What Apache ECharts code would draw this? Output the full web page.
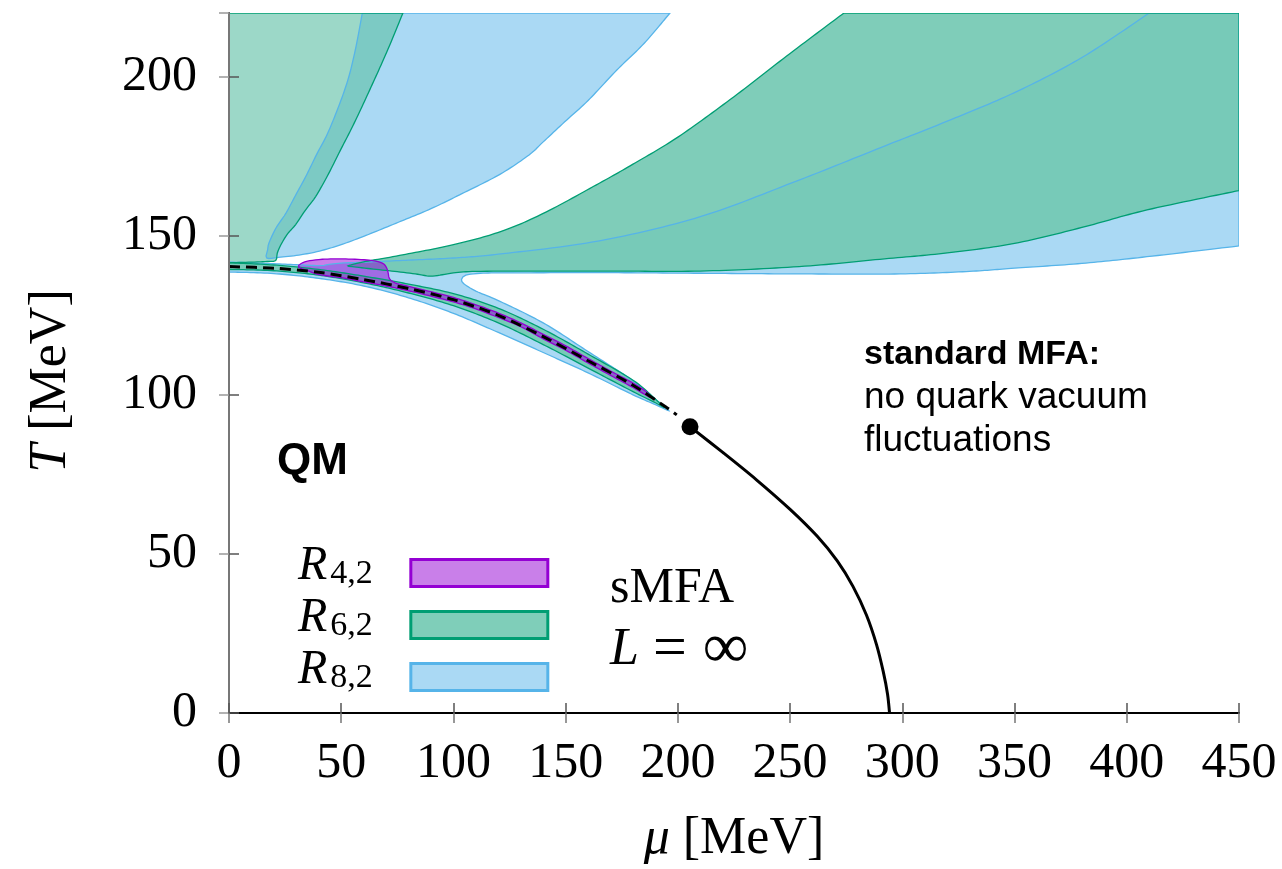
<!DOCTYPE html>
<html>
<head>
<meta charset="utf-8">
<script src="https://cdn.jsdelivr.net/npm/echarts@6/dist/echarts.min.js"></script>
<style>
  html, body { margin: 0; padding: 0; background: #fff; }
  #chart { width: 1282px; height: 869px; }
</style>
</head>
<body>
<div id="chart"></div>
<script>
// Axis ranges (MeV)
const muRange = [0, 450];
const tRange = [0, 220];
const muTickStep = 50;
const tTickStep = 50;

// Crossover line (dashed), mu and T in MeV
const crossoverMu = [0, 20, 40, 60, 80, 100, 120, 140, 160, 180, 195, 199.5];
const crossoverT  = [140.3, 139.8, 138.5, 136.2, 133.4, 129.9, 125.0, 118.3, 110.7, 103.0, 96.0, 93.7];

// First-order transition line (solid) from the critical endpoint down to T = 0
const firstOrderMu = [205.4, 220, 235, 250, 262, 271, 278, 284, 288.5, 291.5, 293.4, 294.3];
const firstOrderT  = [90.0, 81.9, 73.3, 64.0, 55.6, 47.8, 39.8, 30.8, 21.5, 13.0, 6.0, 0];

// Critical endpoint
const cepMu = 205.4;
const cepT = 90.0;

// Region where R_{4,2} is negative: outline points [mu, T]
const r42Blob = [
  [31,140.2],[35,139.0],[40,137.8],[50,136.8],[60,135.5],[70,134.2],[80,132.7],[90,131.0],
  [100,129.2],[110,127.0],[120,124.3],[130,121.4],[140,117.6],[150,114.0],[160,110.0],
  [170,106.1],[180,102.3],[186,99.8],[188,99.2],
  [186,100.9],[180,103.7],[170,107.5],[160,111.4],[150,115.4],[140,119.0],[130,122.6],
  [120,125.7],[110,128.3],[100,130.6],[90,132.4],[80,134.1],[74,135.2],[71.5,136.5],
  [71,138.0],[70.3,139.8],[68.3,141.4],[62.4,142.3],[52,142.7],[41.6,142.6],[35,142.0],[32,141.2]
];

// Regions where R_{6,2} is negative
const r62UpperLeft = [
  [0,141.5],[10,141.7],[17,141.9],[20.8,142.2],[21.5,144.5],[23,147],[26,150.5],[29.7,153.5],
  [34,158],[38.6,162.3],[44,169],[49,176],[56.4,186.3],[65.4,200],[71.3,209.4],[77.5,220],[0,220]
];
const r62CrossoverBand = [
  [0,139.4],[20,139.0],[40,137.6],[60,135.2],[80,132.0],[100,128.0],[120,122.6],[140,115.8],
  [160,108.4],[180,101.0],[190,97.5],[194,96.0],
  [190,98.6],[180,104.6],[160,112.8],[140,120.6],[120,127.2],[100,131.8],[80,134.8],
  [60,137.3],[40,139.4],[20,140.8],[0,141.5]
];
const r62RightBand = [
  [53,140.5],[60,141.8],[76,143.8],[100,147.2],[121,151.3],[140,157],[165,166.5],[180,172.5],
  [200,181],[225,193.7],[250,207.3],[274,220],[450,220],[450,164.2],
  [409,158.1],[380,152.6],[350,147.6],[320,144.6],[290,142.6],[254,140.3],[210,138.9],
  [165,138.9],[110,138.8],[100,138.3],[93,137.5],[89,137.3],[85,137.8],[75,138.7],[62,139.7],[55,140.3]
];

// Regions where R_{8,2} is negative
const r82UpperLeft = [
  [16.8,143.0],[17.2,145.5],[17.8,147.7],[21,152.5],[25.3,157],[29.5,162.5],[34.2,168.6],
  [39,175.5],[44.6,183.2],[52,196.8],[56,207.5],[59.4,220],[196.5,220],[185,210.5],
  [172.7,202],[160,192.5],[150.5,186.4],[140,179.5],[133.7,175.4],[120.7,169.3],[104,163.3],
  [90,158.5],[74.3,153.9],[60,149.8],[50,147.2],[44.6,146],[38,144.8],[30,143.8],[22,143.2]
];
const r82BandAndStrip = [
  [0,138.6],[20,138.1],[40,136.6],[60,134.2],[80,130.5],[100,125.6],[120,119.6],[140,113.3],
  [160,106.9],[180,100.0],[190,96.9],[196,95.0],
  [192,97.4],[180,104.4],[160,113.6],[140,122.6],[120,129.6],[110,132.6],[104.5,135.0],
  [103.6,136.3],[105.5,137.6],[112,138.2],[120,138.3],[165,138.4],[210,138.2],[254,138.0],
  [299,138.0],[330,138.8],[350,139.8],[380,141.3],[409,143.4],[450,146.8],[450,220],[410,220],
  [380,206],[350,195],[320,186],[295,179],[254,167.5],[210,156],[165,148.4],[120,144.2],
  [100,143.0],[76,142.2],[60,141.7],[50,141.4],[44.6,141.0],[41,140.6],[30,140.9],[20,141.2],
  [10,141.5],[0,141.7]
];

// Legend names and their subscripts
const legendNames = ['R42', 'R62', 'R82'];
const legendSubscripts = { R42: '4,2', R62: '6,2', R82: '8,2' };

const SERIF = '"Liberation Serif", "DejaVu Serif", serif';
const SANS = '"Liberation Sans", Arial, sans-serif';

const purple = '#9400d3', green = '#009e73', blue = '#56b4e9';

// True when an outline point lies on the plot frame (edges there stay straight)
function onFrame(p) {
  return p[0] <= muRange[0] || p[0] >= muRange[1] || p[1] >= tRange[1];
}

// Smooth closed outline in pixel space: cubic Catmull-Rom pieces between the
// read points, straight pieces along the frame.
function outlinePixels(poly, api) {
  const px = poly.map(pt => api.coord(pt));
  const fr = poly.map(onFrame);
  const n = px.length;
  const out = [];
  const clampVec = (v, maxLen) => {
    const l = Math.hypot(v[0], v[1]);
    return l > maxLen && l > 0 ? [v[0] * maxLen / l, v[1] * maxLen / l] : v;
  };
  for (let i = 0; i < n; i++) {
    const ia = (i - 1 + n) % n, ib = (i + 1) % n, ic = (i + 2) % n;
    const p1 = px[i], p2 = px[ib];
    out.push(p1);
    if (fr[i] && fr[ib]) continue;
    const p0 = (fr[i] && fr[ia]) ? p1 : px[ia];
    const p3 = (fr[ib] && fr[ic]) ? p2 : px[ic];
    const seg = Math.hypot(p2[0] - p1[0], p2[1] - p1[1]);
    const t1 = clampVec([(p2[0] - p0[0]) / 6, (p2[1] - p0[1]) / 6], seg * 0.45);
    const t2 = clampVec([(p3[0] - p1[0]) / 6, (p3[1] - p1[1]) / 6], seg * 0.45);
    const c1 = [p1[0] + t1[0], p1[1] + t1[1]];
    const c2 = [p2[0] - t2[0], p2[1] - t2[1]];
    const steps = Math.max(2, Math.min(16, Math.ceil(seg / 3)));
    for (let k = 1; k < steps; k++) {
      const t = k / steps, u = 1 - t;
      out.push([
        u * u * u * p1[0] + 3 * u * u * t * c1[0] + 3 * u * t * t * c2[0] + t * t * t * p2[0],
        u * u * u * p1[1] + 3 * u * u * t * c1[1] + 3 * u * t * t * c2[1] + t * t * t * p2[1]
      ]);
    }
  }
  return out;
}

// Filled regions: one polygon per data item
function regionFill(name, polys, fills, legendColor, stroke, z) {
  return {
    type: 'custom', name: name, silent: true, clip: true, z: z,
    itemStyle: { color: legendColor, borderColor: stroke, borderWidth: 3 },
    data: polys.map(p => p[0]),
    renderItem: function (params, api) {
      return {
        type: 'polygon',
        shape: { points: outlinePixels(polys[params.dataIndex], api) },
        style: { fill: fills[params.dataIndex], stroke: null }
      };
    }
  };
}

// Region boundaries, drawn above all fills
function regionEdge(name, polys, stroke, z) {
  return {
    type: 'custom', name: name, silent: true, clip: true, z: z,
    data: polys.map(p => p[0]),
    renderItem: function (params, api) {
      return {
        type: 'polygon',
        shape: { points: outlinePixels(polys[params.dataIndex], api) },
        style: { fill: null, stroke: stroke, lineWidth: 1.3 }
      };
    }
  };
}

const zip = (a, b) => a.map((v, i) => [v, b[i]]);

const chart = echarts.init(document.getElementById('chart'), null, { renderer: 'canvas' });

const tickLabelStyle = { fontFamily: SERIF, fontSize: 50, color: '#000' };
const axisNameStyle = {
  fontFamily: SERIF, fontSize: 52, color: '#000',
  rich: { i: { fontFamily: SERIF, fontStyle: 'italic', fontSize: 52, color: '#000' } }
};

const blueFill = 'rgba(86,180,233,0.5)';
const greenFillLight = 'rgba(95,192,166,0.62)';
const greenFill = 'rgba(113,200,177,0.9)';
const purpleFill = 'rgba(148,0,211,0.5)';

chart.setOption({
  animation: false,
  backgroundColor: '#fff',
  grid: { left: 229, right: 43, top: 13, bottom: 156, show: false, containLabel: false, outerBoundsMode: 'none' },
  legend: {
    data: legendNames,
    orient: 'vertical',
    left: 298,
    top: 542,
    padding: 0,
    align: 'right',
    icon: 'rect',
    itemWidth: 137,
    itemHeight: 27,
    itemGap: -10,
    selectedMode: false,
    itemStyle: { borderWidth: 3 },
    formatter: function (name) {
      return '{r|R}{s|' + legendSubscripts[name] + '}{p| }';
    },
    textStyle: {
      rich: {
        r: { fontFamily: SERIF, fontStyle: 'italic', fontSize: 48, lineHeight: 36, color: '#000', padding: [0, 0, 14, 0] },
        s: { fontFamily: SERIF, fontSize: 34, lineHeight: 28, color: '#000', verticalAlign: 'bottom', padding: [0, 0, 0, 3] },
        p: { width: 33 }
      }
    }
  },
  xAxis: [
    {
      type: 'value', min: muRange[0], max: muRange[1], interval: muTickStep, position: 'bottom', z: 10,
      name: '{i|μ} [MeV]', nameLocation: 'middle', nameGap: 100, nameTextStyle: axisNameStyle,
      axisLine: { show: true, lineStyle: { color: '#000', width: 2 } },
      axisTick: { show: true, inside: true, length: 10, lineStyle: { color: '#555', width: 1.5 } },
      axisLabel: Object.assign({ margin: 26 }, tickLabelStyle),
      splitLine: { show: false }
    },
    {
      type: 'value', min: muRange[0], max: muRange[1], interval: muTickStep, position: 'top', z: 10,
      axisLine: { show: true, lineStyle: { color: '#000', width: 1.5 } },
      axisTick: { show: true, inside: true, length: 10, lineStyle: { color: '#777', width: 1.5 } },
      axisLabel: { show: false },
      splitLine: { show: false }
    }
  ],
  yAxis: [
    {
      type: 'value', min: tRange[0], max: tRange[1], interval: tTickStep, position: 'left', z: 10,
      name: '{i|T} [MeV]', nameLocation: 'middle', nameGap: 152,
      nameTextStyle: Object.assign({ padding: [0, 36, 0, 0] }, axisNameStyle),
      axisLine: { show: true, lineStyle: { color: '#000', width: 2 } },
      axisTick: { show: true, inside: true, length: 10, lineStyle: { color: '#555', width: 1.5 } },
      axisLabel: Object.assign({ margin: 32, showMaxLabel: false }, tickLabelStyle),
      splitLine: { show: false }
    },
    {
      type: 'value', min: tRange[0], max: tRange[1], interval: tTickStep, position: 'right', z: 10,
      axisLine: { show: true, lineStyle: { color: '#777', width: 2 } },
      axisTick: { show: true, inside: true, length: 10, lineStyle: { color: '#999', width: 1.5 } },
      axisLabel: { show: false },
      splitLine: { show: false }
    }
  ],
  series: [
    regionFill('R82', [r82UpperLeft, r82BandAndStrip], [blueFill, blueFill], '#aad9f4', blue, 2),
    regionFill('R62', [r62UpperLeft, r62CrossoverBand, r62RightBand], [greenFillLight, greenFill, greenFill], '#7fceb9', green, 2),
    regionFill('R42', [r42Blob], [purpleFill], '#c97fe9', purple, 2),
    regionEdge('R82 edge', [r82UpperLeft, r82BandAndStrip], blue, 3),
    regionEdge('R62 edge', [r62UpperLeft, r62CrossoverBand, r62RightBand], green, 3),
    regionEdge('R42 edge', [r42Blob], purple, 3),
    {
      type: 'line', name: 'crossover', data: zip(crossoverMu, crossoverT), smooth: 0.3,
      showSymbol: false, silent: true, z: 5,
      lineStyle: { color: '#000', width: 3, type: [11, 6] }
    },
    {
      type: 'line', name: 'first order', data: zip(firstOrderMu, firstOrderT), smooth: 0.3,
      showSymbol: false, silent: true, z: 5,
      lineStyle: { color: '#000', width: 3 }
    },
    {
      type: 'scatter', name: 'CEP', data: [[cepMu, cepT]], symbol: 'circle', symbolSize: 17,
      silent: true, z: 6, itemStyle: { color: '#000', opacity: 1 }
    }
  ],
  graphic: [
    { type: 'text', left: 277, top: 440, style: { text: 'QM', font: 'bold 44px ' + SANS, fill: '#000' } },
    {
      type: 'text', left: 864, top: 333,
      style: {
        text: '{b|standard MFA:}\nno quark vacuum\nfluctuations',
        font: '37px ' + SANS, lineHeight: 43, fill: '#000',
        rich: { b: { fontWeight: 'bold', fontFamily: SANS, fontSize: 34, lineHeight: 43 } }
      }
    },
    { type: 'text', left: 610, top: 564, style: { text: 'sMFA', font: '50px ' + SERIF, fill: '#000' } },
    {
      type: 'text', left: 610, top: 618,
      style: {
        text: '{i|L}{e|=}{inf|∞}', font: '50px ' + SERIF, fill: '#000',
        rich: {
          i: { fontStyle: 'italic', fontFamily: SERIF, fontSize: 52 },
          e: { fontFamily: SERIF, fontSize: 60, padding: [0, 16, 0, 14] },
          inf: { fontFamily: SERIF, fontSize: 64 }
        }
      }
    }
  ]
});
</script>
</body>
</html>
